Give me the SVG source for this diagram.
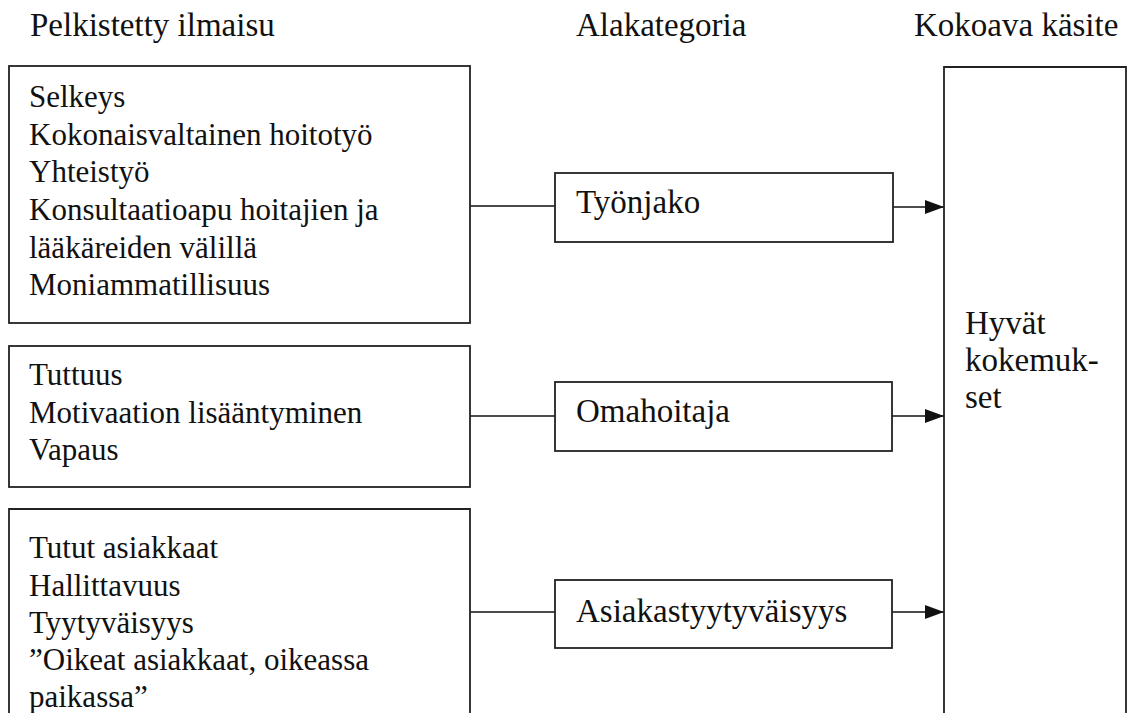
<svg xmlns="http://www.w3.org/2000/svg" width="1128" height="713" viewBox="0 0 1128 713">
<defs>
<style>
.t{font-family:"Liberation Serif","Times New Roman",serif;font-size:31px;fill:#111}
.big{font-size:33px}
.box{fill:#fff;stroke:#222;stroke-width:1.8}
.ln{stroke:#111;stroke-width:1.6;fill:none}
</style>
<marker id="ah" markerUnits="userSpaceOnUse" markerWidth="20" markerHeight="14" refX="19" refY="7" orient="auto">
<path d="M0,0 L19,7 L0,14 Z" fill="#111"/>
</marker>
</defs>
<rect width="1128" height="713" fill="#fff"/>
<g id="headers" class="t big" font-family="Liberation Serif">
<text x="30" y="36">Pelkistetty ilmaisu</text>
<text x="576" y="36">Alakategoria</text>
<text x="914" y="36">Kokoava käsite</text>
</g>
<g id="connectors">
<line class="ln" x1="470" y1="206" x2="555" y2="206"/>
<line class="ln" x1="893" y1="207" x2="944" y2="207" marker-end="url(#ah)"/>
<line class="ln" x1="470" y1="416" x2="555" y2="416"/>
<line class="ln" x1="892" y1="416" x2="944" y2="416" marker-end="url(#ah)"/>
<line class="ln" x1="470" y1="612" x2="555" y2="612"/>
<line class="ln" x1="892" y1="612" x2="944" y2="612" marker-end="url(#ah)"/>
</g>
<g id="expr1" class="t" font-family="Liberation Serif">
<rect class="box" x="9" y="66" width="461" height="257"/>
<text x="29" y="107">Selkeys</text>
<text x="29" y="144.5">Kokonaisvaltainen hoitotyö</text>
<text x="29" y="182">Yhteistyö</text>
<text x="29" y="220">Konsultaatioapu hoitajien ja</text>
<text x="29" y="257.5">lääkäreiden välillä</text>
<text x="29" y="295">Moniammatillisuus</text>
</g>
<g id="expr2" class="t" font-family="Liberation Serif">
<rect class="box" x="9" y="346" width="461" height="141"/>
<text x="29" y="385">Tuttuus</text>
<text x="29" y="423">Motivaation lisääntyminen</text>
<text x="29" y="460">Vapaus</text>
</g>
<g id="expr3" class="t" font-family="Liberation Serif">
<path class="box" d="M9,720 V509 H470 V720"/>
<text x="29" y="558">Tutut asiakkaat</text>
<text x="29" y="596">Hallittavuus</text>
<text x="29" y="633">Tyytyväisyys</text>
<text x="29" y="670">”Oikeat asiakkaat, oikeassa</text>
<text x="29" y="707">paikassa”</text>
</g>
<g id="sub1" class="t big" font-family="Liberation Serif">
<rect class="box" x="555" y="173" width="338" height="69"/>
<text x="576" y="213">Työnjako</text>
</g>
<g id="sub2" class="t big" font-family="Liberation Serif">
<rect class="box" x="555" y="382" width="337" height="69"/>
<text x="576" y="422">Omahoitaja</text>
</g>
<g id="sub3" class="t big" font-family="Liberation Serif">
<rect class="box" x="555" y="580" width="337" height="68"/>
<text x="576" y="622">Asiakastyytyväisyys</text>
</g>
<g id="concept" class="t big" font-family="Liberation Serif">
<path class="box" d="M944,720 V67 H1126 V720"/>
<text x="965" y="334">Hyvät</text>
<text x="965" y="371">kokemuk-</text>
<text x="965" y="408">set</text>
</g>
</svg>
